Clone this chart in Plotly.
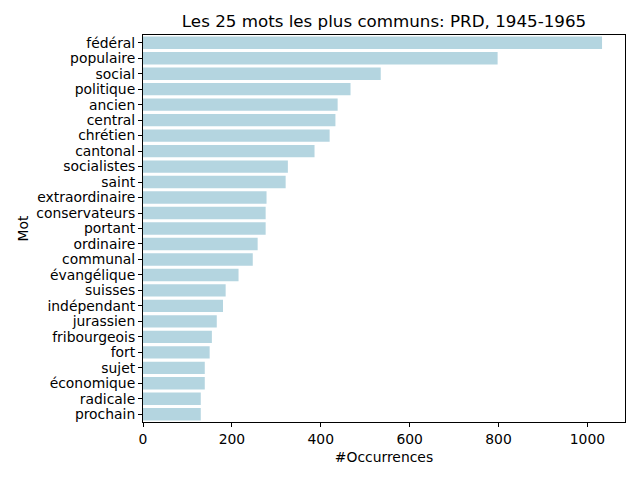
import plotly.graph_objects as go

words = ["fédéral", "populaire", "social", "politique", "ancien", "central", "chrétien",
         "cantonal", "socialistes", "saint", "extraordinaire", "conservateurs", "portant",
         "ordinaire", "communal", "évangélique", "suisses", "indépendant", "jurassien",
         "fribourgeois", "fort", "sujet", "économique", "radicale", "prochain"]
counts = [1033, 798, 535, 467, 438, 433, 420, 386, 326, 321, 278, 276, 276, 258, 247,
          215, 186, 180, 166, 155, 150, 139, 139, 130, 130]
xticks = [0, 200, 400, 600, 800, 1000]

fig = go.Figure(go.Bar(
    x=counts, y=words, orientation="h",
    marker=dict(color="#b4d5e0", line=dict(width=0)),
))

font = "DejaVu Sans, sans-serif"
fs = 13.9
fig.update_layout(
    width=640, height=480,
    margin=dict(l=143, r=15, t=35, b=58),
    paper_bgcolor="white", plot_bgcolor="white",
    bargap=0.2,
    showlegend=False,
    font=dict(family=font, size=fs, color="black"),
    title=dict(text="Les 25 mots les plus communs: PRD, 1945-1965",
               x=(143 + 625) / 2 / 640, xanchor="center",
               y=1 - 21 / 480, yanchor="middle",
               font=dict(family=font, size=16.7, color="black")),
)
fig.update_xaxes(
    range=[0, max(counts) * 1.05],
    tickvals=xticks, ticktext=[str(v) for v in xticks],
    showgrid=False, zeroline=False,
    showline=True, linecolor="black", linewidth=1, mirror=True,
    ticks="outside", ticklen=4, tickcolor="black",
    tickfont=dict(family=font, size=fs),
    title=dict(text="#Occurrences", font=dict(family=font, size=fs), standoff=6),
)
fig.update_yaxes(
    autorange="reversed",
    tickmode="array", tickvals=words, ticktext=words,
    showgrid=False, zeroline=False,
    showline=True, linecolor="black", linewidth=1, mirror=True,
    ticks="outside", ticklen=4, tickcolor="black",
    tickfont=dict(family=font, size=fs),
    title=dict(text="Mot", font=dict(family=font, size=fs), standoff=4),
)

fig.write_html("out.html")
